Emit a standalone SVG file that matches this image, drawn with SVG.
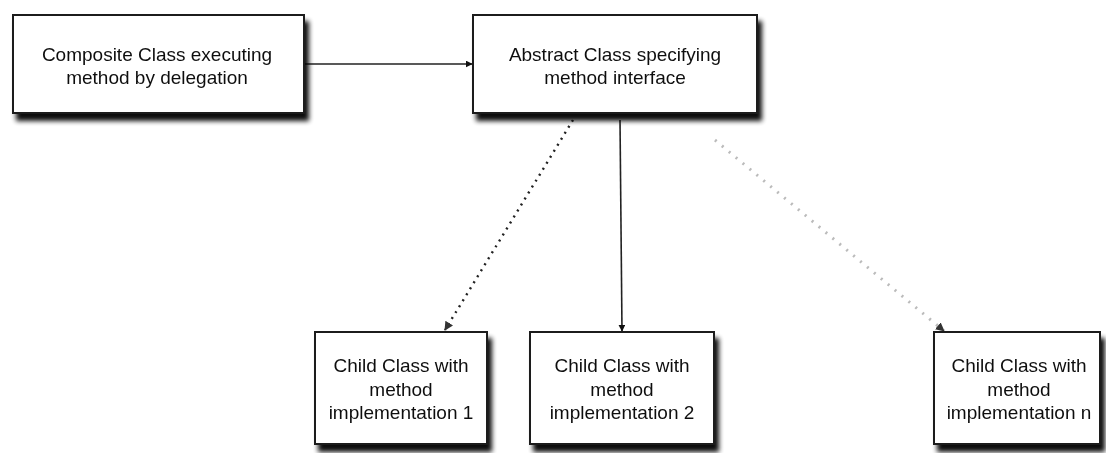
<svg xmlns="http://www.w3.org/2000/svg" width="1106" height="453" viewBox="0 0 1106 453">
<style>
.box{fill:#fff;stroke:#1a1a1a;stroke-width:2}
.lbl{font-family:"Liberation Sans",Arial,sans-serif;font-size:19px;fill:#111;text-anchor:middle}
.con{fill:none;stroke:#222;stroke-width:1.6}
.dot{stroke-dasharray:2 5;stroke-width:2.4}
.faint{stroke:#bbb;stroke-dasharray:2 7;stroke-width:3}
</style>
<defs>
<filter id="sh" x="-10%" y="-10%" width="125%" height="130%">
<feOffset in="SourceAlpha" dx="4" dy="7" result="o"/>
<feGaussianBlur in="o" stdDeviation="2.5" result="b"/>
<feComponentTransfer in="b" result="c"><feFuncA type="linear" slope="0.95"/></feComponentTransfer>
<feMerge><feMergeNode in="c"/><feMergeNode in="SourceGraphic"/></feMerge>
</filter>
<marker id="ah" viewBox="0 0 10 10" refX="9" refY="5" markerWidth="7" markerHeight="7" markerUnits="userSpaceOnUse" orient="auto">
<path d="M0,0 L10,5 L0,10 z" fill="#111"/>
</marker>
<marker id="ahf" viewBox="0 0 10 10" refX="9" refY="5" markerWidth="9" markerHeight="9" markerUnits="userSpaceOnUse" orient="auto">
<path d="M0,0 L10,5 L0,10 z" fill="#333"/>
</marker>
</defs>
<rect width="1106" height="453" fill="#fff"/>
<g id="connectors">
<line class="con" x1="305" y1="64" x2="472" y2="64" marker-end="url(#ah)"/>
<line class="con dot" x1="573" y1="120" x2="445" y2="330" marker-end="url(#ahf)"/>
<line class="con" x1="620" y1="120" x2="622" y2="331" marker-end="url(#ah)"/>
<line class="con faint" x1="715" y1="140" x2="944" y2="331" marker-end="url(#ahf)"/>
</g>
<g id="composite" filter="url(#sh)">
<rect class="box" x="13" y="15" width="291" height="98"/>
<text class="lbl" x="157" y="61">Composite Class executing</text>
<text class="lbl" x="157" y="84">method by delegation</text>
</g>
<g id="abstract" filter="url(#sh)">
<rect class="box" x="473" y="15" width="284" height="98"/>
<text class="lbl" x="615" y="61">Abstract Class specifying</text>
<text class="lbl" x="615" y="84">method interface</text>
</g>
<g id="child1" filter="url(#sh)">
<rect class="box" x="315" y="332" width="172" height="112"/>
<text class="lbl" x="401" y="372">Child Class with</text>
<text class="lbl" x="401" y="396">method</text>
<text class="lbl" x="401" y="419">implementation 1</text>
</g>
<g id="child2" filter="url(#sh)">
<rect class="box" x="530" y="332" width="184" height="112"/>
<text class="lbl" x="622" y="372">Child Class with</text>
<text class="lbl" x="622" y="396">method</text>
<text class="lbl" x="622" y="419">implementation 2</text>
</g>
<g id="childn" filter="url(#sh)">
<rect class="box" x="934" y="332" width="166" height="112"/>
<text class="lbl" x="1019" y="372">Child Class with</text>
<text class="lbl" x="1019" y="396">method</text>
<text class="lbl" x="1019" y="419">implementation n</text>
</g>
</svg>
